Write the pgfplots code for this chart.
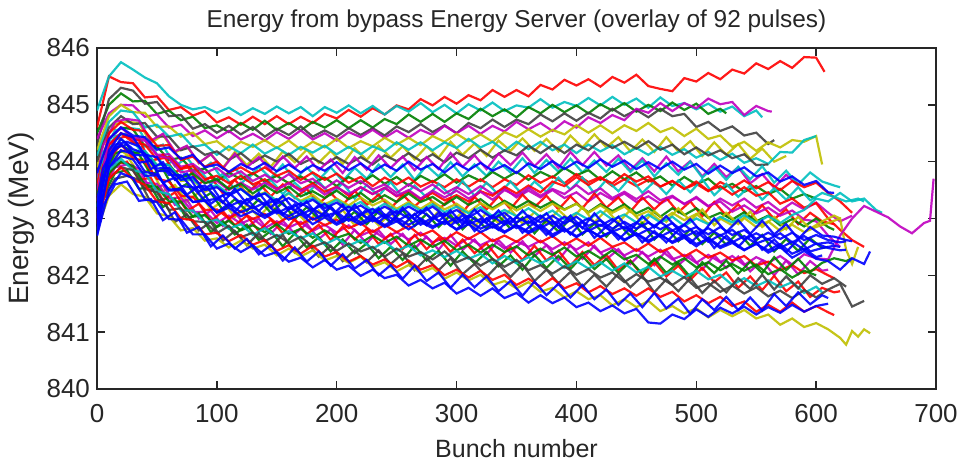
\documentclass[border=0pt]{standalone}
\usepackage{fontspec}
\setmainfont{Liberation Sans}
\usepackage{pgfplots}
\pgfplotsset{compat=1.18}
\definecolor{mb}{rgb}{0,0,1}
\definecolor{mg}{rgb}{0,0.5,0}
\definecolor{mr}{rgb}{1,0,0}
\definecolor{mc}{rgb}{0,0.75,0.75}
\definecolor{mm}{rgb}{0.75,0,0.75}
\definecolor{my}{rgb}{0.75,0.75,0}
\definecolor{mk}{rgb}{0.25,0.25,0.25}
\begin{document}
\begin{tikzpicture}
\begin{axis}[
  scale only axis, width=419.5bp, height=170.5bp,
  xmin=0, xmax=700, ymin=840, ymax=846,
  xtick={0,100,...,700}, ytick={840,841,...,846},
  tick align=inside, major tick length=4bp,
  axis line style={line width=0.9bp, black!85},
  every tick/.style={black!85, line width=0.7bp},
  /pgf/number format/assume math mode=true,
  /pgf/number format/1000 sep={},
  tick label style={font=\fontsize{13bp}{15bp}\selectfont, black!85},
  xticklabel style={yshift=-4bp},
  title={Energy from bypass Energy Server (overlay of 92 pulses)},
  title style={font=\fontsize{12.2bp}{14bp}\selectfont, black!85, anchor=base, at={(0.5,1)}, yshift=4.5bp},
  xlabel={Bunch number},
  xlabel style={font=\fontsize{12.5bp}{14bp}\selectfont, black!85, anchor=base, at={(axis description cs:0.5,0)}, yshift=-34.5bp},
  ylabel={Energy (MeV)},
  ylabel style={font=\fontsize{14bp}{16bp}\selectfont, black!85, anchor=base, at={(axis description cs:-0.0822,0.5)}},
  every axis plot/.append style={line width=1.1bp, no markers, opacity=0.9},
  clip=true,
]
% red outlier
\addplot[mr] coordinates {(0,844.60)(10,845.50)(20,845.40)(30,845.38)(40,845.13)(50,845.15)(60,844.91)(70,844.96)(80,844.81)(90,844.89)(100,844.69)(110,844.78)(120,844.65)(130,844.79)(140,844.66)(150,844.80)(160,844.66)(170,844.79)(180,844.68)(190,844.84)(200,844.76)(210,844.91)(220,844.79)(230,844.94)(240,844.83)(250,844.99)(260,844.92)(270,845.10)(280,844.99)(290,845.14)(300,845.02)(310,845.17)(320,845.08)(330,845.26)(340,845.14)(350,845.26)(360,845.15)(370,845.35)(380,845.27)(390,845.44)(400,845.34)(410,845.45)(420,845.32)(430,845.49)(440,845.39)(450,845.53)(460,845.33)(470,845.28)(480,845.24)(490,845.47)(500,845.41)(510,845.56)(520,845.45)(530,845.62)(540,845.55)(550,845.73)(560,845.63)(570,845.77)(580,845.65)(590,845.84)(600,845.83)(607,845.58)};
% cyan top
\addplot[mc] coordinates {(0,844.90)(10,845.50)(20,845.75)(30,845.62)(40,845.48)(50,845.38)(60,845.15)(70,845.00)(80,844.92)(90,844.96)(100,844.86)(110,844.95)(120,844.82)(130,844.94)(140,844.84)(150,844.97)(160,844.85)(170,844.96)(180,844.80)(190,844.96)(200,844.86)(210,844.99)(220,844.85)(230,844.98)(240,844.83)(250,844.98)(260,844.88)(270,845.03)(280,844.87)(290,845.00)(300,844.85)(310,845.01)(320,844.90)(330,845.04)(340,844.89)(350,844.99)(360,844.95)(370,845.10)(380,844.95)(390,845.05)(400,844.98)(410,845.12)(420,844.99)(430,845.14)(440,845.00)(450,845.11)(460,844.95)(470,845.13)(480,844.98)(490,845.03)(500,844.92)(510,845.02)(520,844.88)(530,844.97)(540,844.80)(550,844.90)(555,844.78)};
% green top
\addplot[mg] coordinates {(0,844.50)(10,845.00)(20,845.20)(30,845.06)(40,845.07)(50,844.84)(60,844.90)(70,844.73)(80,844.79)(90,844.59)(100,844.64)(110,844.52)(120,844.68)(130,844.56)(140,844.72)(150,844.56)(160,844.68)(170,844.55)(180,844.70)(190,844.60)(200,844.73)(210,844.59)(220,844.73)(230,844.60)(240,844.75)(250,844.66)(260,844.83)(270,844.70)(280,844.84)(290,844.70)(300,844.85)(310,844.75)(320,844.93)(330,844.80)(340,844.92)(350,844.78)(360,844.96)(370,844.85)(380,845.00)(390,844.87)(400,844.99)(410,844.85)(420,845.01)(430,844.90)(440,845.03)(450,844.88)(460,845.00)(470,844.89)(480,845.04)(490,844.91)(500,845.02)(510,844.84)(520,844.93)(525,844.85)};
% grey top
\addplot[mk] coordinates {(0,844.30)(10,845.10)(20,845.30)(30,845.25)(40,845.02)(50,845.05)(60,844.80)(70,844.82)(80,844.58)(90,844.66)(100,844.51)(110,844.63)(120,844.48)(130,844.61)(140,844.44)(150,844.58)(160,844.47)(170,844.62)(180,844.44)(190,844.55)(200,844.44)(210,844.59)(220,844.47)(230,844.59)(240,844.46)(250,844.62)(260,844.52)(270,844.66)(280,844.52)(290,844.64)(300,844.50)(310,844.68)(320,844.59)(330,844.74)(340,844.61)(350,844.74)(360,844.66)(370,844.83)(380,844.71)(390,844.85)(400,844.72)(410,844.86)(420,844.76)(430,844.93)(440,844.80)(450,844.91)(460,844.78)(470,844.93)(480,844.80)(490,844.84)(500,844.61)(510,844.70)(520,844.54)(530,844.62)(540,844.46)(550,844.51)(560,844.31)(565,844.38)};
% magenta top
\addplot[mm] coordinates {(0,844.40)(10,844.85)(20,845.00)(30,844.99)(40,844.79)(50,844.83)(60,844.60)(70,844.65)(80,844.45)(90,844.55)(100,844.41)(110,844.54)(120,844.39)(130,844.49)(140,844.37)(150,844.52)(160,844.40)(170,844.55)(180,844.39)(190,844.50)(200,844.37)(210,844.52)(220,844.43)(230,844.56)(240,844.42)(250,844.55)(260,844.42)(270,844.56)(280,844.47)(290,844.63)(300,844.50)(310,844.63)(320,844.49)(330,844.63)(340,844.53)(350,844.70)(360,844.57)(370,844.68)(380,844.54)(390,844.71)(400,844.60)(410,844.78)(420,844.68)(430,844.82)(440,844.73)(450,844.93)(460,844.86)(470,845.03)(480,844.89)(490,845.03)(500,844.94)(510,845.11)(520,845.01)(530,845.05)(540,844.82)(550,844.98)(560,844.89)(563,844.88)};
% yellow top
\addplot[my] coordinates {(0,844.20)(10,844.80)(20,845.00)(30,844.87)(40,844.86)(50,844.61)(60,844.62)(70,844.44)(80,844.51)(90,844.31)(100,844.36)(110,844.20)(120,844.35)(130,844.26)(140,844.38)(150,844.24)(160,844.37)(170,844.21)(180,844.35)(190,844.25)(200,844.40)(210,844.24)(220,844.36)(230,844.27)(240,844.42)(250,844.30)(260,844.42)(270,844.29)(280,844.45)(290,844.35)(300,844.49)(310,844.36)(320,844.48)(330,844.35)(340,844.52)(350,844.43)(360,844.57)(370,844.44)(380,844.56)(390,844.48)(400,844.64)(410,844.51)(420,844.64)(430,844.50)(440,844.64)(450,844.54)(460,844.68)(470,844.52)(480,844.60)(490,844.45)(500,844.58)(510,844.40)(520,844.46)(530,844.26)(540,844.35)(550,844.19)(560,844.34)(570,844.25)(580,844.38)(590,844.35)(600,844.45)(605,843.95)};
% yellow N1
\addplot[my] coordinates {(0,843.90)(5,844.34)(15,844.66)(25,844.70)(35,844.68)(45,844.33)(55,844.47)(65,844.16)(75,844.27)(85,843.97)(95,844.13)(105,843.89)(115,844.17)(125,843.94)(135,844.14)(145,843.91)(155,844.18)(165,843.99)(175,844.21)(185,843.98)(195,844.19)(205,843.96)(215,844.24)(225,844.03)(235,844.28)(245,844.07)(255,844.27)(265,844.04)(275,844.27)(285,844.07)(295,844.35)(305,844.12)(315,844.32)(325,844.10)(335,844.37)(345,844.19)(355,844.41)(365,844.19)(375,844.40)(385,844.18)(395,844.46)(405,844.25)(415,844.48)(425,844.25)(435,844.43)(445,844.18)(455,844.39)(465,844.17)(475,844.43)(485,844.18)(495,844.36)(505,844.10)(515,844.34)(525,844.12)(535,844.31)(545,844.05)(555,844.23)(565,844.00)(575,844.10)};
% cyan 2
\addplot[mc] coordinates {(0,844.10)(10,844.70)(20,844.90)(30,844.87)(40,844.60)(50,844.65)(60,844.44)(70,844.49)(80,844.26)(90,844.30)(100,844.12)(110,844.27)(120,844.15)(130,844.30)(140,844.14)(150,844.25)(160,844.12)(170,844.26)(180,844.16)(190,844.28)(200,844.13)(210,844.26)(220,844.13)(230,844.27)(240,844.18)(250,844.34)(260,844.21)(270,844.34)(280,844.20)(290,844.34)(300,844.24)(310,844.40)(320,844.25)(330,844.35)(340,844.19)(350,844.35)(360,844.22)(370,844.35)(380,844.20)(390,844.30)(400,844.15)(410,844.30)(420,844.18)(430,844.29)(440,844.13)(450,844.24)(460,844.12)(470,844.26)(480,844.12)(490,844.22)(500,844.07)(510,844.17)(520,844.03)(530,844.14)(540,843.98)(550,844.06)(560,843.96)(570,844.17)(580,844.16)(590,844.38)(600,844.45)};
% grey 2
\addplot[mk] coordinates {(0,844.00)(10,844.60)(20,844.80)(30,844.66)(40,844.68)(50,844.44)(60,844.44)(70,844.20)(80,844.27)(90,844.12)(100,844.18)(110,844.03)(120,844.15)(130,843.98)(140,844.11)(150,844.00)(160,844.14)(170,843.96)(180,844.06)(190,843.95)(200,844.08)(210,843.96)(220,844.08)(230,843.95)(240,844.11)(250,844.01)(260,844.15)(270,844.01)(280,844.13)(290,843.99)(300,844.16)(310,844.06)(320,844.21)(330,844.07)(340,844.20)(350,844.11)(360,844.28)(370,844.15)(380,844.29)(390,844.15)(400,844.30)(410,844.20)(420,844.37)(430,844.24)(440,844.35)(450,844.23)(460,844.36)(470,844.21)(480,844.30)(490,844.13)(500,844.25)(510,844.11)(520,844.20)(530,844.06)(540,844.13)(550,843.94)(560,843.95)};
% magenta N13
\addplot[mm] coordinates {(0,843.70)(5,844.28)(15,844.70)(25,844.75)(35,844.72)(45,844.37)(55,844.49)(65,844.18)(75,844.28)(85,843.98)(95,844.13)(105,843.88)(115,844.14)(125,843.90)(135,844.08)(145,843.84)(155,844.09)(165,843.89)(175,844.09)(185,843.85)(195,844.04)(205,843.80)(215,844.08)(225,843.86)(235,844.11)(245,843.89)(255,844.09)(265,843.85)(275,844.08)(285,843.87)(295,844.15)(305,843.91)(315,844.11)(325,843.87)(335,844.14)(345,843.94)(355,844.16)(365,843.92)(375,844.13)(385,843.89)(395,844.17)(405,843.94)(415,844.17)(425,843.93)(435,844.11)(445,843.85)(455,844.06)(465,843.83)(475,844.09)(485,843.83)(495,844.01)(505,843.74)(515,843.96)(525,843.73)(535,843.90)(545,843.62)(555,843.78)(565,843.54)(575,843.77)(585,843.58)};
% cyan N2
\addplot[mc] coordinates {(0,843.60)(5,844.15)(15,844.55)(25,844.60)(35,844.57)(45,844.21)(55,844.30)(65,843.92)(75,844.07)(85,843.81)(95,843.98)(105,843.68)(115,843.88)(125,843.67)(135,843.91)(145,843.71)(155,843.95)(165,843.68)(175,843.90)(185,843.68)(195,843.90)(205,843.66)(215,843.89)(225,843.70)(235,843.95)(245,843.73)(255,843.95)(265,843.68)(275,843.93)(285,843.74)(295,843.99)(305,843.74)(315,843.95)(325,843.75)(335,844.00)(345,843.81)(355,844.06)(365,843.80)(375,844.03)(385,843.82)(395,844.05)(405,843.81)(415,844.02)(425,843.82)(435,844.05)(445,843.82)(455,844.02)(465,843.74)(475,843.97)(485,843.77)(495,844.00)(505,843.72)(515,843.91)(525,843.68)(535,843.91)(545,843.69)(555,843.92)(565,843.63)(575,843.84)(585,843.60)(595,843.81)(605,843.65)(615,843.58)(620,843.55)};
% green 4
\addplot[mg] coordinates {(0,843.50)(10,844.40)(20,844.60)(30,844.57)(40,844.27)(50,844.27)(60,844.03)(70,844.07)(80,843.84)(90,843.88)(100,843.66)(110,843.81)(120,843.69)(130,843.80)(140,843.65)(150,843.75)(160,843.62)(170,843.74)(180,843.62)(190,843.72)(200,843.57)(210,843.73)(220,843.62)(230,843.76)(240,843.61)(250,843.73)(260,843.58)(270,843.75)(280,843.64)(290,843.78)(300,843.63)(310,843.76)(320,843.66)(330,843.82)(340,843.70)(350,843.82)(360,843.68)(370,843.82)(380,843.72)(390,843.89)(400,843.76)(410,843.85)(420,843.68)(430,843.83)(440,843.69)(450,843.81)(460,843.65)(470,843.74)(480,843.58)(490,843.73)(500,843.60)(510,843.70)(520,843.52)(530,843.61)(540,843.47)(550,843.57)(560,843.43)(570,843.52)(580,843.35)(590,843.43)(600,843.35)};
% red 2
\addplot[mr] coordinates {(0,843.60)(10,844.50)(20,844.70)(30,844.56)(40,844.54)(50,844.28)(60,844.29)(70,844.03)(80,844.09)(90,843.91)(100,844.00)(110,843.81)(120,843.90)(130,843.78)(140,843.90)(150,843.75)(160,843.84)(170,843.68)(180,843.81)(190,843.68)(200,843.79)(210,843.63)(220,843.73)(230,843.57)(240,843.72)(250,843.60)(260,843.72)(270,843.56)(280,843.66)(290,843.55)(300,843.69)(310,843.56)(320,843.69)(330,843.55)(340,843.69)(350,843.59)(360,843.76)(370,843.63)(380,843.74)(390,843.62)(400,843.78)(410,843.64)(420,843.73)(430,843.57)(440,843.69)(450,843.57)(460,843.68)(470,843.56)(480,843.66)(490,843.52)(500,843.61)(510,843.48)(520,843.64)(530,843.54)(540,843.67)(550,843.53)(560,843.64)(570,843.50)(580,843.66)(590,843.55)(600,843.63)(610,843.45)(620,843.30)(630,843.10)};
% cyan N11
\addplot[mc] coordinates {(0,843.40)(5,844.01)(15,844.45)(25,844.50)(35,844.23)(45,844.32)(55,843.93)(65,844.02)(75,843.72)(85,843.88)(95,843.60)(105,843.79)(115,843.51)(125,843.71)(135,843.48)(145,843.68)(155,843.43)(165,843.63)(175,843.43)(185,843.65)(195,843.42)(205,843.62)(215,843.35)(225,843.59)(235,843.40)(245,843.64)(255,843.38)(265,843.58)(275,843.37)(285,843.61)(295,843.41)(305,843.66)(315,843.40)(325,843.63)(335,843.42)(345,843.65)(355,843.42)(365,843.65)(375,843.47)(385,843.72)(395,843.51)(405,843.72)(415,843.44)(425,843.68)(435,843.48)(445,843.72)(455,843.45)(465,843.65)(475,843.43)(485,843.67)(495,843.46)(505,843.69)(515,843.41)(525,843.61)(535,843.38)(545,843.58)(555,843.33)(565,843.53)(575,843.33)(585,843.55)(595,843.32)(605,843.45)(615,843.38)(625,843.30)(635,843.35)(640,843.30)};
% magenta 2
\addplot[mm] coordinates {(0,843.50)(10,844.30)(20,844.50)(30,844.38)(40,844.37)(50,844.12)(60,844.13)(70,843.91)(80,843.96)(90,843.80)(100,843.89)(110,843.73)(120,843.83)(130,843.66)(140,843.77)(150,843.64)(160,843.78)(170,843.62)(180,843.70)(190,843.53)(200,843.67)(210,843.54)(220,843.66)(230,843.51)(240,843.60)(250,843.45)(260,843.60)(270,843.48)(280,843.60)(290,843.44)(300,843.55)(310,843.43)(320,843.57)(330,843.43)(340,843.53)(350,843.37)(360,843.49)(370,843.37)(380,843.50)(390,843.36)(400,843.46)(410,843.30)(420,843.45)(430,843.33)(440,843.44)(450,843.29)(460,843.39)(470,843.26)(480,843.38)(490,843.26)(500,843.36)(510,843.21)(520,843.35)(530,843.23)(540,843.35)(550,843.19)(560,843.29)(570,843.13)(580,843.28)(590,843.16)(600,843.28)(610,843.10)(620,842.95)(630,843.05)};
% red 5
\addplot[mr] coordinates {(0,843.40)(10,844.30)(20,844.50)(30,844.34)(40,844.30)(50,844.04)(60,844.08)(70,843.87)(80,843.92)(90,843.69)(100,843.75)(110,843.62)(120,843.75)(130,843.60)(140,843.69)(150,843.52)(160,843.63)(170,843.50)(180,843.62)(190,843.47)(200,843.56)(210,843.40)(220,843.55)(230,843.43)(240,843.54)(250,843.39)(260,843.48)(270,843.34)(280,843.45)(290,843.32)(300,843.41)(310,843.30)(320,843.48)(330,843.40)(340,843.56)(350,843.44)(360,843.58)(370,843.46)(380,843.65)(390,843.57)(400,843.73)(410,843.59)(420,843.71)(430,843.62)(440,843.78)(450,843.65)(460,843.74)(470,843.56)(480,843.66)(490,843.52)(500,843.65)(510,843.49)(520,843.57)(530,843.42)(540,843.55)(550,843.40)(560,843.46)(570,843.26)(580,843.35)(590,843.19)(600,843.27)(610,843.00)(620,842.80)(630,842.62)(640,842.50)};
% red N3
\addplot[mr] coordinates {(0,843.30)(5,843.93)(15,844.39)(25,844.45)(35,844.38)(45,843.99)(55,844.12)(65,843.81)(75,843.93)(85,843.61)(95,843.73)(105,843.44)(115,843.68)(125,843.44)(135,843.63)(145,843.39)(155,843.60)(165,843.36)(175,843.52)(185,843.26)(195,843.45)(205,843.23)(215,843.49)(225,843.24)(235,843.42)(245,843.17)(255,843.42)(265,843.21)(275,843.41)(285,843.16)(295,843.35)(305,843.10)(315,843.38)(325,843.16)(335,843.39)(345,843.17)(355,843.42)(365,843.20)(375,843.40)(385,843.16)(395,843.39)(405,843.18)(415,843.44)(425,843.19)(435,843.37)(445,843.12)(455,843.37)(465,843.16)(475,843.36)(485,843.11)(495,843.30)(505,843.04)(515,843.29)(525,843.05)(535,843.25)(545,843.01)(555,843.23)(565,842.99)(575,843.16)(585,842.90)(595,843.10)(605,842.95)(615,842.90)};
% magenta 4
\addplot[mm] coordinates {(0,843.30)(10,844.40)(20,844.60)(30,844.42)(40,844.40)(50,844.11)(60,844.06)(70,843.81)(80,843.85)(90,843.63)(100,843.66)(110,843.50)(120,843.63)(130,843.51)(140,843.63)(150,843.51)(160,843.62)(170,843.48)(180,843.58)(190,843.42)(200,843.55)(210,843.43)(220,843.55)(230,843.43)(240,843.54)(250,843.40)(260,843.50)(270,843.35)(280,843.49)(290,843.37)(300,843.49)(310,843.35)(320,843.47)(330,843.33)(340,843.50)(350,843.40)(360,843.54)(370,843.40)(380,843.52)(390,843.43)(400,843.59)(410,843.43)(420,843.53)(430,843.36)(440,843.47)(450,843.34)(460,843.48)(470,843.32)(480,843.40)(490,843.25)(500,843.38)(510,843.22)(520,843.30)(530,843.12)(540,843.23)(550,843.09)(560,843.19)(570,843.05)(580,843.14)(590,842.98)(600,842.95)(610,842.70)(620,842.50)};
% green 2
\addplot[mg] coordinates {(0,843.40)(10,844.10)(20,844.30)(30,844.16)(40,844.17)(50,843.94)(60,843.94)(70,843.72)(80,843.79)(90,843.62)(100,843.69)(110,843.52)(120,843.61)(130,843.44)(140,843.58)(150,843.45)(160,843.56)(170,843.39)(180,843.48)(190,843.36)(200,843.49)(210,843.34)(220,843.45)(230,843.29)(240,843.41)(250,843.29)(260,843.44)(270,843.29)(280,843.38)(290,843.24)(300,843.38)(310,843.24)(320,843.34)(330,843.18)(340,843.31)(350,843.19)(360,843.31)(370,843.19)(380,843.30)(390,843.16)(400,843.26)(410,843.11)(420,843.25)(430,843.13)(440,843.25)(450,843.09)(460,843.19)(470,843.03)(480,843.18)(490,843.06)(500,843.18)(510,843.01)(520,843.10)(530,842.98)(540,843.11)(550,842.95)(560,843.05)(570,842.88)(580,842.99)(590,842.86)(600,843.00)(610,842.85)(615,842.80)};
% yellow 2
\addplot[my] coordinates {(0,843.30)(10,844.00)(20,844.20)(30,844.04)(40,844.04)(50,843.83)(60,843.88)(70,843.66)(80,843.68)(90,843.47)(100,843.57)(110,843.43)(120,843.54)(130,843.38)(140,843.46)(150,843.30)(160,843.44)(170,843.31)(180,843.42)(190,843.25)(200,843.35)(210,843.23)(220,843.37)(230,843.23)(240,843.33)(250,843.17)(260,843.29)(270,843.17)(280,843.30)(290,843.16)(300,843.26)(310,843.11)(320,843.27)(330,843.16)(340,843.28)(350,843.14)(360,843.25)(370,843.13)(380,843.26)(390,843.15)(400,843.26)(410,843.10)(420,843.23)(430,843.10)(440,843.21)(450,843.04)(460,843.13)(470,842.96)(480,843.10)(490,842.97)(500,843.08)(510,842.91)(520,843.00)(530,842.88)(540,843.01)(550,842.85)(560,842.95)(570,842.78)(580,842.89)(590,842.76)(600,842.85)(610,842.92)(620,843.00)(625,842.45)(630,842.20)(635,842.50)};
% yellow N8
\addplot[my] coordinates {(0,843.00)(5,843.61)(15,844.05)(25,844.10)(35,843.80)(45,843.86)(55,843.48)(65,843.59)(75,843.30)(85,843.46)(95,843.16)(105,843.31)(115,843.02)(125,843.24)(135,843.03)(145,843.25)(155,842.97)(165,843.15)(175,842.92)(185,843.14)(195,842.92)(205,843.15)(215,842.88)(225,843.10)(235,842.88)(245,843.10)(255,842.86)(265,843.08)(275,842.89)(285,843.13)(295,842.91)(305,843.12)(315,842.86)(325,843.10)(335,842.92)(345,843.16)(355,842.91)(365,843.11)(375,842.91)(385,843.15)(395,842.96)(405,843.20)(415,842.93)(425,843.15)(435,842.93)(445,843.15)(455,842.91)(465,843.13)(475,842.94)(485,843.18)(495,842.96)(505,843.16)(515,842.88)(525,843.10)(535,842.90)(545,843.12)(555,842.85)(565,843.03)(575,842.81)(585,843.03)(595,842.82)(605,842.95)(615,843.05)(620,843.00)};
% cyan 3
\addplot[mc] coordinates {(0,843.20)(10,844.10)(20,844.40)(30,844.19)(40,844.19)(50,843.94)(60,843.94)(70,843.68)(80,843.69)(90,843.51)(100,843.59)(110,843.43)(120,843.52)(130,843.35)(140,843.45)(150,843.32)(160,843.45)(170,843.29)(180,843.36)(190,843.21)(200,843.33)(210,843.19)(220,843.29)(230,843.13)(240,843.26)(250,843.14)(260,843.26)(270,843.14)(280,843.25)(290,843.11)(300,843.21)(310,843.09)(320,843.20)(330,843.04)(340,843.15)(350,843.04)(360,843.18)(370,843.03)(380,843.14)(390,842.98)(400,843.10)(410,842.98)(420,843.13)(430,842.98)(440,843.07)(450,842.93)(460,843.07)(470,842.93)(480,843.03)(490,842.87)(500,843.00)(510,842.90)(520,843.03)(530,842.93)(540,843.06)(550,842.92)(560,843.04)(570,842.92)(580,843.06)(590,843.15)(600,843.35)(610,843.30)(620,843.45)(630,843.30)(640,843.35)(650,843.15)(655,843.10)};
% green N4
\addplot[mg] coordinates {(0,843.10)(5,843.71)(15,844.15)(25,844.20)(35,844.13)(45,843.77)(55,843.87)(65,843.49)(75,843.61)(85,843.31)(95,843.45)(105,843.15)(115,843.34)(125,843.13)(135,843.34)(145,843.10)(155,843.28)(165,842.99)(175,843.20)(185,842.99)(195,843.20)(205,842.93)(215,843.12)(225,842.90)(235,843.13)(245,842.92)(255,843.15)(265,842.87)(275,843.08)(285,842.85)(295,843.06)(305,842.81)(315,843.02)(325,842.82)(335,843.05)(345,842.82)(355,843.02)(365,842.74)(375,842.97)(385,842.77)(395,843.00)(405,842.72)(415,842.91)(425,842.68)(435,842.91)(445,842.69)(455,842.92)(465,842.63)(475,842.84)(485,842.60)(495,842.81)(505,842.55)(515,842.75)(525,842.54)(535,842.76)(545,842.52)(555,842.71)(565,842.42)(575,842.64)(585,842.43)(595,842.65)(605,842.48)(610,842.50)};
% magenta 3 (long)
\addplot[mm] coordinates {(0,843.00)(10,843.80)(20,844.00)(30,843.93)(40,843.63)(50,843.61)(60,843.35)(70,843.37)(80,843.11)(90,843.12)(100,842.92)(110,843.05)(120,842.91)(130,843.00)(140,842.83)(150,842.95)(160,842.84)(170,842.94)(180,842.78)(190,842.89)(200,842.75)(210,842.88)(220,842.70)(230,842.79)(240,842.65)(250,842.76)(260,842.63)(270,842.75)(280,842.58)(290,842.66)(300,842.52)(310,842.66)(320,842.53)(330,842.63)(340,842.47)(350,842.60)(360,842.50)(370,842.61)(380,842.46)(390,842.58)(400,842.45)(410,842.58)(420,842.40)(430,842.49)(440,842.35)(450,842.46)(460,842.33)(470,842.45)(480,842.28)(490,842.36)(500,842.22)(510,842.36)(520,842.23)(530,842.34)(540,842.18)(550,842.32)(560,842.22)(570,842.34)(580,842.19)(590,842.37)(600,842.30)(610,842.28)(620,842.70)(630,843.00)(640,843.22)(650,843.12)(660,843.02)(670,842.86)(680,842.74)(690,842.92)(695,842.96)(698,843.70)};
% magenta N5
\addplot[mm] coordinates {(0,842.90)(5,843.48)(15,843.90)(25,843.95)(35,843.88)(45,843.49)(55,843.59)(65,843.24)(75,843.33)(85,843.00)(95,843.14)(105,842.87)(115,843.11)(125,842.84)(135,843.00)(145,842.73)(155,842.96)(165,842.73)(175,842.91)(185,842.64)(195,842.81)(205,842.54)(215,842.80)(225,842.56)(235,842.79)(245,842.55)(255,842.73)(265,842.47)(275,842.68)(285,842.45)(295,842.71)(305,842.45)(315,842.63)(325,842.37)(335,842.62)(345,842.40)(355,842.60)(365,842.34)(375,842.53)(385,842.27)(395,842.53)(405,842.29)(415,842.52)(425,842.28)(435,842.46)(445,842.20)(455,842.41)(465,842.18)(475,842.44)(485,842.18)(495,842.36)(505,842.10)(515,842.35)(525,842.13)(535,842.33)(545,842.07)(555,842.26)(565,842.00)(575,842.26)(585,842.02)(595,842.25)(605,842.08)(610,842.10)};
% red 3
\addplot[mr] coordinates {(0,843.10)(10,844.05)(20,844.30)(30,844.07)(40,843.99)(50,843.70)(60,843.65)(70,843.40)(80,843.38)(90,843.15)(100,843.16)(110,843.00)(120,843.13)(130,842.99)(140,843.08)(150,842.91)(160,843.03)(170,842.90)(180,843.01)(190,842.88)(200,842.98)(210,842.83)(220,842.92)(230,842.76)(240,842.89)(250,842.76)(260,842.87)(270,842.70)(280,842.79)(290,842.62)(300,842.76)(310,842.64)(320,842.76)(330,842.60)(340,842.70)(350,842.59)(360,842.73)(370,842.58)(380,842.69)(390,842.53)(400,842.65)(410,842.52)(420,842.66)(430,842.50)(440,842.58)(450,842.43)(460,842.56)(470,842.41)(480,842.50)(490,842.33)(500,842.45)(510,842.31)(520,842.40)(530,842.26)(540,842.34)(550,842.17)(560,842.24)(570,842.09)(580,842.18)(590,842.04)(600,842.11)(610,842.00)(615,841.95)};
% red N9
\addplot[mr] coordinates {(0,843.00)(5,843.55)(15,843.95)(25,844.00)(35,843.69)(45,843.71)(55,843.32)(65,843.46)(75,843.13)(85,843.26)(95,842.95)(105,843.13)(115,842.88)(125,843.05)(135,842.78)(145,842.98)(155,842.74)(165,842.99)(175,842.72)(185,842.89)(195,842.62)(205,842.86)(215,842.63)(225,842.82)(235,842.55)(245,842.73)(255,842.46)(265,842.71)(275,842.46)(285,842.66)(295,842.41)(305,842.63)(315,842.39)(325,842.56)(335,842.30)(345,842.50)(355,842.27)(365,842.52)(375,842.26)(385,842.43)(395,842.17)(405,842.41)(415,842.18)(425,842.36)(435,842.09)(445,842.26)(455,841.99)(465,842.23)(475,841.98)(485,842.17)(495,841.92)(505,842.13)(515,841.88)(525,842.05)(535,841.78)(545,841.98)(555,841.74)(565,841.99)(575,841.72)(585,841.89)(595,841.62)(605,841.78)(615,841.70)(620,841.72)};
% green 3
\addplot[mg] coordinates {(0,842.90)(10,843.80)(20,844.00)(30,843.92)(40,843.59)(50,843.56)(60,843.30)(70,843.30)(80,843.03)(90,843.06)(100,842.85)(110,842.96)(120,842.79)(130,842.88)(140,842.76)(150,842.90)(160,842.73)(170,842.82)(180,842.66)(190,842.79)(200,842.66)(210,842.73)(220,842.57)(230,842.70)(240,842.57)(250,842.68)(260,842.52)(270,842.63)(280,842.50)(290,842.61)(300,842.44)(310,842.54)(320,842.40)(330,842.54)(340,842.41)(350,842.51)(360,842.35)(370,842.47)(380,842.36)(390,842.49)(400,842.33)(410,842.43)(420,842.30)(430,842.44)(440,842.28)(450,842.36)(460,842.20)(470,842.33)(480,842.19)(490,842.30)(500,842.14)(510,842.23)(520,842.09)(530,842.20)(540,842.08)(550,842.19)(560,842.02)(570,842.11)(580,841.96)(590,842.08)(600,842.00)};
% green N14
\addplot[mg] coordinates {(0,842.80)(5,843.38)(15,843.80)(25,843.85)(35,843.52)(45,843.56)(55,843.20)(65,843.34)(75,842.99)(85,843.09)(95,842.76)(105,842.95)(115,842.72)(125,842.89)(135,842.62)(145,842.78)(155,842.51)(165,842.74)(175,842.49)(185,842.67)(195,842.42)(205,842.63)(215,842.39)(225,842.56)(235,842.30)(245,842.50)(255,842.27)(265,842.52)(275,842.26)(285,842.43)(295,842.17)(305,842.42)(315,842.21)(325,842.41)(335,842.16)(345,842.35)(355,842.10)(365,842.36)(375,842.13)(385,842.34)(395,842.11)(405,842.34)(415,842.11)(425,842.29)(435,842.04)(445,842.25)(455,842.03)(465,842.29)(475,842.04)(485,842.22)(495,841.97)(505,842.23)(515,842.04)(525,842.26)(535,842.03)(545,842.24)(555,842.04)(565,842.32)(575,842.09)(585,842.29)(595,842.06)(605,842.22)(615,842.30)(625,842.25)(630,842.30)};
% cyan 4
\addplot[mc] coordinates {(0,843.20)(10,843.85)(20,844.05)(30,843.85)(40,843.80)(50,843.48)(60,843.43)(70,843.14)(80,843.14)(90,842.93)(100,842.98)(110,842.82)(120,842.90)(130,842.71)(140,842.83)(150,842.68)(160,842.78)(170,842.65)(180,842.74)(190,842.54)(200,842.65)(210,842.52)(220,842.62)(230,842.47)(240,842.59)(250,842.43)(260,842.52)(270,842.35)(280,842.44)(290,842.32)(300,842.43)(310,842.29)(320,842.38)(330,842.21)(340,842.34)(350,842.21)(360,842.32)(370,842.21)(380,842.31)(390,842.13)(400,842.25)(410,842.12)(420,842.23)(430,842.08)(440,842.21)(450,842.05)(460,842.15)(470,841.98)(480,842.08)(490,841.96)(500,842.08)(510,841.93)(520,842.01)(530,841.83)(540,841.95)(550,841.81)(560,841.91)(570,841.79)(580,841.88)(590,841.69)(600,841.80)(605,841.70)};
% grey N6
\addplot[mk] coordinates {(0,842.80)(5,843.32)(15,843.70)(25,843.75)(35,843.68)(45,843.28)(55,843.34)(65,842.94)(75,843.07)(85,842.79)(95,842.94)(105,842.61)(115,842.78)(125,842.53)(135,842.74)(145,842.50)(155,842.71)(165,842.40)(175,842.59)(185,842.33)(195,842.52)(205,842.25)(215,842.44)(225,842.23)(235,842.44)(245,842.20)(255,842.38)(265,842.09)(275,842.30)(285,842.09)(295,842.30)(305,842.02)(315,842.20)(325,841.97)(335,842.19)(345,841.97)(355,842.19)(365,841.90)(375,842.10)(385,841.86)(395,842.06)(405,841.80)(415,842.01)(425,841.80)(435,842.03)(445,841.79)(455,841.99)(465,841.70)(475,841.93)(485,841.72)(495,841.95)(505,841.69)(515,841.90)(525,841.70)(535,841.95)(545,841.76)(555,842.01)(565,841.75)(575,841.98)(585,841.77)(595,842.00)(605,841.85)(615,841.95)(625,841.80)};
% grey 3
\addplot[mk] coordinates {(0,843.00)(10,843.70)(20,843.90)(30,843.85)(40,843.52)(50,843.46)(60,843.15)(70,843.18)(80,842.95)(90,842.94)(100,842.74)(110,842.87)(120,842.67)(130,842.75)(140,842.60)(150,842.71)(160,842.57)(170,842.68)(180,842.50)(190,842.58)(200,842.43)(210,842.56)(220,842.42)(230,842.50)(240,842.33)(250,842.47)(260,842.33)(270,842.41)(280,842.28)(290,842.42)(300,842.23)(310,842.32)(320,842.17)(330,842.29)(340,842.15)(350,842.27)(360,842.09)(370,842.18)(380,842.03)(390,842.16)(400,842.01)(410,842.11)(420,841.96)(430,842.05)(440,841.88)(450,842.02)(460,841.89)(470,841.96)(480,841.83)(490,841.97)(500,841.78)(510,841.86)(520,841.71)(530,841.82)(540,841.68)(550,841.79)(560,841.63)(570,841.73)(580,841.60)(590,841.74)(600,841.61)(610,841.75)(620,841.85)(630,841.45)(640,841.55)};
% yellow 3 (low)
\addplot[my] coordinates {(0,842.80)(10,843.40)(20,843.60)(30,843.43)(40,843.38)(50,843.09)(60,843.04)(70,842.79)(80,842.83)(90,842.61)(100,842.65)(110,842.49)(120,842.61)(130,842.47)(140,842.54)(150,842.35)(160,842.47)(170,842.33)(180,842.44)(190,842.26)(200,842.34)(210,842.22)(220,842.33)(230,842.15)(240,842.23)(250,842.07)(260,842.18)(270,842.04)(280,842.13)(290,841.94)(300,842.05)(310,841.91)(320,842.01)(330,841.83)(340,841.90)(350,841.77)(360,841.88)(370,841.71)(380,841.78)(390,841.61)(400,841.72)(410,841.58)(420,841.65)(430,841.47)(440,841.58)(450,841.44)(460,841.55)(470,841.37)(480,841.46)(490,841.33)(500,841.42)(510,841.26)(520,841.39)(530,841.28)(540,841.39)(550,841.24)(560,841.31)(570,841.13)(580,841.24)(590,841.09)(600,841.16)(610,841.05)(620,840.90)(625,840.78)(630,841.02)(635,840.92)(640,841.05)(645,840.98)};
% red 4 (low)
\addplot[mr] coordinates {(0,842.90)(10,843.70)(20,843.90)(30,843.69)(40,843.59)(50,843.30)(60,843.27)(70,843.00)(80,842.97)(90,842.72)(100,842.75)(110,842.60)(120,842.71)(130,842.54)(140,842.62)(150,842.43)(160,842.53)(170,842.38)(180,842.52)(190,842.33)(200,842.41)(210,842.24)(220,842.34)(230,842.19)(240,842.28)(250,842.14)(260,842.26)(270,842.10)(280,842.18)(290,842.00)(300,842.10)(310,841.96)(320,842.08)(330,841.92)(340,842.01)(350,841.83)(360,841.94)(370,841.80)(380,841.95)(390,841.77)(400,841.86)(410,841.70)(420,841.81)(430,841.67)(440,841.77)(450,841.64)(460,841.77)(470,841.62)(480,841.71)(490,841.54)(500,841.65)(510,841.51)(520,841.62)(530,841.46)(540,841.54)(550,841.36)(560,841.48)(570,841.36)(580,841.52)(590,841.36)(600,841.46)(610,841.35)(615,841.30)};
% blue 5 (low)
\addplot[mb] coordinates {(0,842.70)(10,843.50)(20,843.80)(30,843.71)(40,843.34)(50,843.29)(60,842.99)(70,842.98)(80,842.72)(90,842.72)(100,842.47)(110,842.56)(120,842.41)(130,842.53)(140,842.34)(150,842.41)(160,842.24)(170,842.31)(180,842.14)(190,842.27)(200,842.10)(210,842.17)(220,841.99)(230,842.10)(240,841.95)(250,842.01)(260,841.82)(270,841.92)(280,841.77)(290,841.87)(300,841.68)(310,841.78)(320,841.64)(330,841.77)(340,841.60)(350,841.69)(360,841.52)(370,841.65)(380,841.51)(390,841.61)(400,841.44)(410,841.52)(420,841.37)(430,841.47)(440,841.33)(450,841.41)(460,841.17)(470,841.15)(480,841.31)(490,841.23)(500,841.40)(510,841.27)(520,841.43)(530,841.33)(540,841.45)(550,841.31)(560,841.44)(570,841.34)(580,841.48)(590,841.36)(600,841.46)(610,841.50)};
% blue N7 (low)
\addplot[mb] coordinates {(0,842.70)(5,843.22)(15,843.60)(25,843.65)(35,843.31)(45,843.34)(55,842.97)(65,843.11)(75,842.75)(85,842.85)(95,842.51)(105,842.70)(115,842.47)(125,842.64)(135,842.37)(145,842.53)(155,842.26)(165,842.49)(175,842.24)(185,842.42)(195,842.17)(205,842.37)(215,842.12)(225,842.27)(235,842.00)(245,842.18)(255,841.94)(265,842.17)(275,841.90)(285,842.05)(295,841.78)(305,842.01)(315,841.79)(325,841.98)(335,841.72)(345,841.90)(355,841.64)(365,841.89)(375,841.65)(385,841.85)(395,841.61)(405,841.83)(415,841.58)(425,841.75)(435,841.48)(445,841.68)(455,841.44)(465,841.69)(475,841.42)(485,841.59)(495,841.32)(505,841.58)(515,841.39)(525,841.62)(535,841.39)(545,841.61)(555,841.38)(565,841.67)(575,841.46)(585,841.70)(595,841.49)(605,841.65)(610,841.60)};
% blue 1 (upper)
\addplot[mb] coordinates {(0,843.80)(10,844.40)(20,844.60)(30,844.46)(40,844.43)(50,844.21)(60,844.25)(70,844.05)(80,844.12)(90,843.90)(100,843.95)(110,843.82)(120,843.96)(130,843.86)(140,843.98)(150,843.83)(160,843.95)(170,843.81)(180,843.94)(190,843.84)(200,843.99)(210,843.85)(220,843.97)(230,843.82)(240,843.95)(250,843.84)(260,844.00)(270,843.86)(280,843.96)(290,843.81)(300,843.97)(310,843.85)(320,843.98)(330,843.84)(340,843.94)(350,843.80)(360,843.97)(370,843.87)(380,844.01)(390,843.87)(400,844.00)(410,843.89)(420,844.04)(430,843.91)(440,844.02)(450,843.87)(460,843.99)(470,843.87)(480,844.00)(490,843.86)(500,843.96)(510,843.79)(520,843.93)(530,843.80)(540,843.90)(550,843.74)(560,843.81)(570,843.65)(580,843.74)(590,843.59)(600,843.66)(610,843.46)(615,843.45)};
% blue 6
\addplot[mb] coordinates {(0,843.10)(10,844.10)(20,844.30)(30,844.12)(40,844.11)(50,843.88)(60,843.89)(70,843.68)(80,843.73)(90,843.50)(100,843.55)(110,843.40)(120,843.52)(130,843.36)(140,843.44)(150,843.26)(160,843.36)(170,843.23)(180,843.33)(190,843.18)(200,843.28)(210,843.13)(220,843.23)(230,843.09)(240,843.21)(250,843.09)(260,843.21)(270,843.09)(280,843.21)(290,843.05)(300,843.15)(310,843.01)(320,843.15)(330,843.00)(340,843.10)(350,842.93)(360,843.05)(370,842.93)(380,843.05)(390,842.91)(400,843.03)(410,842.87)(420,842.97)(430,842.82)(440,842.94)(450,842.82)(460,842.93)(470,842.81)(480,842.92)(490,842.76)(500,842.85)(510,842.72)(520,842.85)(530,842.71)(540,842.80)(550,842.64)(560,842.75)(570,842.64)(580,842.75)(590,842.62)(600,842.71)(610,842.62)(620,842.58)(625,842.60)};
% blue N10
\addplot[mb] coordinates {(0,843.30)(5,843.88)(15,844.30)(25,844.35)(35,844.27)(45,843.87)(55,843.99)(65,843.68)(75,843.79)(85,843.47)(95,843.59)(105,843.28)(115,843.52)(125,843.26)(135,843.45)(145,843.19)(155,843.40)(165,843.14)(175,843.30)(185,843.02)(195,843.21)(205,842.98)(215,843.24)(225,843.00)(235,843.18)(245,842.94)(255,843.19)(265,842.99)(275,843.19)(285,842.95)(295,843.14)(305,842.90)(315,843.16)(325,842.93)(335,843.14)(345,842.91)(355,843.14)(365,842.91)(375,843.09)(385,842.84)(395,843.05)(405,842.83)(415,843.09)(425,842.85)(435,843.03)(445,842.79)(455,843.04)(465,842.84)(475,843.04)(485,842.80)(495,842.99)(505,842.74)(515,843.00)(525,842.76)(535,842.97)(545,842.73)(555,842.96)(565,842.72)(575,842.90)(585,842.64)(595,842.85)(605,842.70)(615,842.68)(625,842.62)(630,842.60)};
% blue 2
\addplot[mb] coordinates {(0,843.00)(10,844.20)(20,844.50)(30,844.43)(40,844.12)(50,844.08)(60,843.77)(70,843.76)(80,843.53)(90,843.58)(100,843.36)(110,843.45)(120,843.27)(130,843.38)(140,843.24)(150,843.34)(160,843.16)(170,843.27)(180,843.15)(190,843.26)(200,843.09)(210,843.21)(220,843.07)(230,843.17)(240,843.01)(250,843.13)(260,843.00)(270,843.14)(280,842.99)(290,843.09)(300,842.92)(310,843.05)(320,842.93)(330,843.05)(340,842.89)(350,843.02)(360,842.92)(370,843.05)(380,842.90)(390,843.03)(400,842.90)(410,843.00)(420,842.87)(430,842.99)(440,842.82)(450,842.93)(460,842.80)(470,842.94)(480,842.79)(490,842.89)(500,842.72)(510,842.83)(520,842.70)(530,842.80)(540,842.63)(550,842.74)(560,842.63)(570,842.74)(580,842.58)(590,842.69)(600,842.55)(610,842.58)(615,842.55)};
% blue N12
\addplot[mb] coordinates {(0,843.00)(5,843.72)(15,844.24)(25,844.30)(35,843.98)(45,844.02)(55,843.63)(65,843.72)(75,843.42)(85,843.57)(95,843.26)(105,843.41)(115,843.12)(125,843.34)(135,843.13)(145,843.35)(155,843.07)(165,843.25)(175,843.02)(185,843.24)(195,843.02)(205,843.24)(215,842.96)(225,843.16)(235,842.93)(245,843.13)(255,842.88)(265,843.08)(275,842.88)(285,843.10)(295,842.87)(305,843.06)(315,842.78)(325,843.00)(335,842.80)(345,843.02)(355,842.75)(365,842.93)(375,842.71)(385,842.93)(395,842.72)(405,842.94)(415,842.66)(425,842.86)(435,842.63)(445,842.83)(455,842.58)(465,842.78)(475,842.58)(485,842.80)(495,842.57)(505,842.76)(515,842.48)(525,842.70)(535,842.50)(545,842.72)(555,842.45)(565,842.63)(575,842.41)(585,842.63)(595,842.42)(605,842.48)(615,842.52)(620,842.50)};
% blue 3
\addplot[mb] coordinates {(0,843.20)(10,844.10)(20,844.40)(30,844.22)(40,844.14)(50,843.84)(60,843.83)(70,843.57)(80,843.55)(90,843.31)(100,843.35)(110,843.21)(120,843.31)(130,843.18)(140,843.28)(150,843.09)(160,843.20)(170,843.07)(180,843.17)(190,843.04)(200,843.11)(210,842.96)(220,843.08)(230,842.95)(240,843.07)(250,842.95)(260,843.07)(270,842.89)(280,843.02)(290,842.90)(300,843.02)(310,842.90)(320,842.99)(330,842.84)(340,842.96)(350,842.83)(360,842.95)(370,842.83)(380,842.95)(390,842.77)(400,842.90)(410,842.78)(420,842.89)(430,842.77)(440,842.85)(450,842.70)(460,842.81)(470,842.68)(480,842.79)(490,842.67)(500,842.78)(510,842.59)(520,842.71)(530,842.58)(540,842.69)(550,842.56)(560,842.64)(570,842.48)(580,842.59)(590,842.45)(600,842.56)(610,842.48)(620,842.44)(625,842.45)};
% blue 4
\addplot[mb] coordinates {(0,842.80)(10,843.90)(20,844.20)(30,844.14)(40,843.82)(50,843.78)(60,843.49)(70,843.50)(80,843.29)(90,843.32)(100,843.10)(110,843.19)(120,843.04)(130,843.13)(140,843.01)(150,843.13)(160,842.98)(170,843.08)(180,842.90)(190,843.02)(200,842.89)(210,843.00)(220,842.89)(230,842.99)(240,842.85)(250,842.95)(260,842.81)(270,842.94)(280,842.83)(290,842.95)(300,842.80)(310,842.90)(320,842.76)(330,842.86)(340,842.75)(350,842.88)(360,842.74)(370,842.85)(380,842.68)(390,842.81)(400,842.69)(410,842.80)(420,842.68)(430,842.78)(440,842.63)(450,842.73)(460,842.58)(470,842.71)(480,842.59)(490,842.71)(500,842.55)(510,842.64)(520,842.48)(530,842.57)(540,842.44)(550,842.56)(560,842.40)(570,842.50)(580,842.31)(590,842.43)(600,842.29)(610,842.25)(620,842.10)(630,842.30)(640,842.20)(645,842.42)};
% blue 7
\addplot[mb] coordinates {(0,842.90)(10,843.90)(20,844.10)(30,844.04)(40,843.75)(50,843.76)(60,843.51)(70,843.52)(80,843.29)(90,843.31)(100,843.11)(110,843.26)(120,843.11)(130,843.20)(140,843.05)(150,843.15)(160,843.04)(170,843.15)(180,842.98)(190,843.07)(200,842.92)(210,843.06)(220,842.93)(230,843.03)(240,842.88)(250,843.01)(260,842.89)(270,843.00)(280,842.86)(290,842.95)(300,842.81)(310,842.97)(320,842.82)(330,842.92)(340,842.77)(350,842.88)(360,842.77)(370,842.89)(380,842.72)(390,842.82)(400,842.67)(410,842.81)(420,842.67)(430,842.77)(440,842.61)(450,842.74)(460,842.61)(470,842.72)(480,842.57)(490,842.66)(500,842.51)(510,842.66)(520,842.51)(530,842.60)(540,842.45)(550,842.55)(560,842.44)(570,842.55)(580,842.38)(590,842.47)(600,842.32)(605,842.35)};
\end{axis}
\pgfresetboundingbox
\useasboundingbox ([xshift=-48.5bp,yshift=-37bp]current axis.south west) rectangle ([xshift=12bp,yshift=24bp]current axis.north east);
\end{tikzpicture}
\end{document}
